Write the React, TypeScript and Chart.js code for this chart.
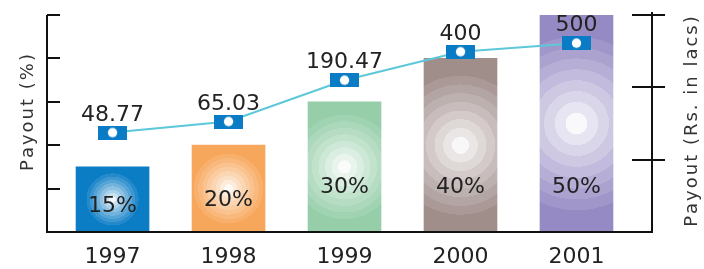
import React, { useEffect, useRef } from "react";
import { Chart, registerables } from "chart.js";

Chart.register(...registerables);

const categories = ["1997", "1998", "1999", "2000", "2001"];
const payoutPct = [15, 20, 30, 40, 50];
const pctLabels = ["15%", "20%", "30%", "40%", "50%"];
const payoutLacs = [48.77, 65.03, 190.47, 400, 500];
const lacsLabels = ["48.77", "65.03", "190.47", "400", "500"];
const pctTicks = [0, 10, 20, 30, 40, 50];
const barColors = ["#0b7dc5", "#f7a75c", "#95cea8", "#a08e8b", "#968ac4"];
const leftTitle = "Payout (%)";
const rightTitle = "Payout (Rs. in lacs)";

const NUM_FONT = "22px 'DejaVu Sans'";
const TITLE_FONT = "18px 'DejaVu Sans'";

function hexToRgb(h: string) {
  const n = parseInt(h.slice(1), 16);
  return [(n >> 16) & 255, (n >> 8) & 255, n & 255];
}
function mix(a: number[], b: number[], t: number) {
  return `rgb(${a.map((v, i) => Math.round(v + (b[i] - v) * t)).join(",")})`;
}

function spacedText(ctx: CanvasRenderingContext2D, text: string, x: number, y: number, spacing: number) {
  const chars = [...text];
  const widths = chars.map((c) => ctx.measureText(c).width);
  const total = widths.reduce((a, b) => a + b, 0) + spacing * (chars.length - 1);
  let cx = x - total / 2;
  ctx.textAlign = "left";
  chars.forEach((c, i) => {
    ctx.fillText(c, cx, y);
    cx += widths[i] + spacing;
  });
}

function makeMarker() {
  const c = document.createElement("canvas");
  c.width = 29;
  c.height = 14;
  const g = c.getContext("2d")!;
  g.fillStyle = "#0a7cc6";
  g.fillRect(0, 0, 29, 14);
  g.fillStyle = "#ffffff";
  g.beginPath();
  g.arc(14.5, 7, 4.7, 0, Math.PI * 2);
  g.fill();
  return c;
}

const decorPlugin = {
  id: "decor",
  afterDatasetsDraw(chart: any) {
    const { ctx } = chart;
    ctx.save();
    ctx.fillStyle = "#222";
    ctx.font = NUM_FONT;
    ctx.textBaseline = "alphabetic";
    const barMeta = chart.getDatasetMeta(0);
    barMeta.data.forEach((el: any, i: number) => {
      const h = el.base - el.y;
      const by = el.base - Math.min(0.3 * h, 39);
      spacedText(ctx, pctLabels[i], el.x, by, 0);
    });
    const lineMeta = chart.getDatasetMeta(1);
    lineMeta.data.forEach((el: any, i: number) => {
      spacedText(ctx, lacsLabels[i], el.x, el.y - 12, 0);
    });
    ctx.restore();
  },
  afterDraw(chart: any) {
    const { ctx, chartArea: a, scales } = chart;
    const ys = scales.y;
    const yl = scales.yLog;
    const xs = scales.x;
    ctx.save();
    ctx.strokeStyle = "#111";
    ctx.lineWidth = 2;
    ctx.beginPath();
    ctx.moveTo(a.left, a.top);
    ctx.lineTo(a.left, a.bottom);
    ctx.lineTo(a.right, a.bottom);
    ctx.lineTo(a.right, a.top - 3);
    pctTicks.forEach((v) => {
      const py = Math.round(ys.getPixelForValue(v));
      ctx.moveTo(a.left, py);
      ctx.lineTo(a.left + 13, py);
    });
    for (let k = 1; k <= 3; k++) {
      const py = Math.round(yl.getPixelForDecimal(k / 3));
      ctx.moveTo(a.right - 20, py);
      ctx.lineTo(a.right + 13, py);
    }
    ctx.stroke();

    ctx.fillStyle = "#222";
    ctx.font = NUM_FONT;
    ctx.textBaseline = "alphabetic";
    categories.forEach((c, i) => {
      spacedText(ctx, c, xs.getPixelForValue(i), a.bottom + 31, 0);
    });

    ctx.fillStyle = "#333";
    ctx.font = TITLE_FONT;
    ctx.save();
    ctx.translate(33, (a.top + a.bottom) / 2 - 11);
    ctx.rotate(-Math.PI / 2);
    spacedText(ctx, leftTitle, 0, 0, 2);
    ctx.restore();
    ctx.save();
    ctx.translate(697, (a.top + a.bottom) / 2 - 2);
    ctx.rotate(-Math.PI / 2);
    spacedText(ctx, rightTitle, 0, 0, 2);
    ctx.restore();
    ctx.restore();
  },
};

export default function App() {
  const ref = useRef<HTMLCanvasElement | null>(null);
  useEffect(() => {
    if (!ref.current) return;
    const marker = makeMarker();
    const chart = new Chart(ref.current, {
      type: "bar",
      data: {
        datasets: [
          {
            type: "bar",
            order: 1,
            data: categories.map((_, i) => ({ x: i, y: payoutPct[i] })),
            xAxisID: "x",
            yAxisID: "y",
            barThickness: 73,
            borderWidth: 0,
            backgroundColor: (c: any) => {
              const chart = c.chart;
              const i = c.dataIndex;
              if (i === undefined || !chart.chartArea || !chart.scales.x) return barColors[0];
              const xs = chart.scales.x;
              const ys = chart.scales.y;
              const cx = xs.getPixelForValue(i);
              const top = ys.getPixelForValue(payoutPct[i]);
              const bot = ys.getPixelForValue(0);
              const cy = (top + bot) / 2;
              const R = ((bot - top) / 2) * 0.9;
              const g = chart.ctx.createRadialGradient(cx, cy, 0, cx, cy, R);
              const base = hexToRgb(barColors[i]);
              const white = [255, 255, 255];
              const N = 9;
              for (let k = 0; k < N; k++) {
                const f = 0.06 + 0.94 * Math.pow(k / (N - 1), 0.85);
                const col = mix(white, base, f);
                g.addColorStop(k / N, col);
                g.addColorStop(Math.min(1, (k + 1) / N - 0.001), col);
              }
              g.addColorStop(1, barColors[i]);
              return g;
            },
          } as any,
          {
            type: "line",
            order: 0,
            data: categories.map((_, i) => ({ x: i, y: payoutLacs[i] })),
            xAxisID: "x",
            yAxisID: "yLog",
            borderColor: "#5cc8d8",
            borderWidth: 2,
            tension: 0,
            pointStyle: marker,
            pointRadius: 8,
          } as any,
        ],
      },
      options: {
        animation: false,
        responsive: true,
        maintainAspectRatio: false,
        events: [],
        layout: { padding: { left: 47, right: 52, top: 15, bottom: 37 } },
        plugins: { legend: { display: false }, tooltip: { enabled: false } },
        scales: {
          x: { type: "linear", min: -0.565, max: 4.651, bounds: "data", offset: false, display: false },
          y: { type: "linear", min: 0, max: 50, bounds: "data", display: false },
          yLog: { type: "logarithmic", min: 3.67, max: 1040, bounds: "data", display: false, position: "right" },
        },
      },
      plugins: [decorPlugin],
    });
    return () => chart.destroy();
  }, []);
  return (
    <div style={{ position: "fixed", left: 0, top: 0, width: 704, height: 269, background: "#fff" }}>
      <canvas ref={ref} />
    </div>
  );
}
